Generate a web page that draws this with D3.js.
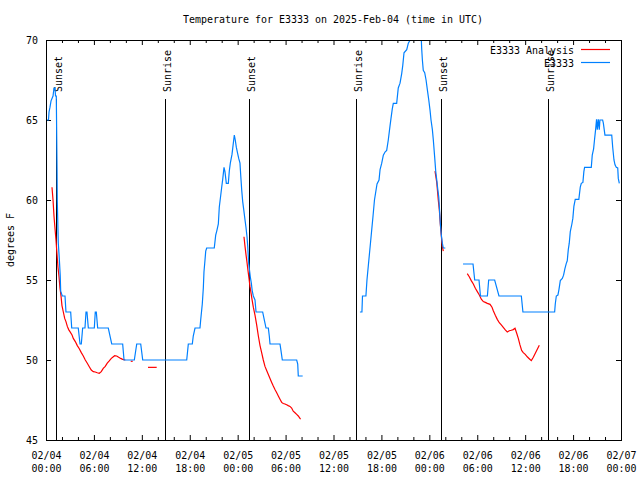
<!DOCTYPE html>
<html><head><meta charset="utf-8">
<script src="https://cdn.jsdelivr.net/npm/d3@7"></script>
<style>
body{margin:0;background:#fff}
svg{display:block}
text{font-family:"DejaVu Sans Mono",monospace;font-size:11px;fill:#000}
</style>
</head><body>
<svg id="c" width="640" height="480"></svg>
<script>
const titleText = "Temperature for E3333 on 2025-Feb-04 (time in UTC)";
const yLabelText = "degrees F";
const seriesNames = ["E3333 Analysis", "E3333"];
const seriesColors = ["#ff0000", "#0080ff"];
const startUTC = Date.UTC(2025, 1, 4);
const xTickHours = [0, 6, 12, 18, 24, 30, 36, 42, 48, 54, 60, 66, 72];
const xMinorHours = [2, 4, 8, 10, 14, 16, 20, 22, 26, 28, 32, 34, 38, 40, 44, 46, 50, 52, 56, 58, 62, 64, 68, 70];
const yTicks = [45, 50, 55, 60, 65, 70];
const sunHours = [1.29, 14.84, 25.38, 38.76, 49.46, 62.88];
const sunLabels = ["Sunset", "Sunrise", "Sunset", "Sunrise", "Sunset", "Sunrise"];

// observed (blue) — [hours since 02/04 00:00 UTC, degF]
const obsSeg1 = [[0.13,65],[0.31,65],[0.38,65.5],[0.5,65.8],[0.63,66.2],[0.88,66.5],[1.0,67],[1.13,67],[1.19,66.5],[1.29,66.5],[1.38,62],[1.41,60],[1.54,57.3],[1.67,56.3],[1.78,55.3],[1.84,54.3],[2.04,54],[2.38,54],[2.5,53],[3.09,53],[3.22,52],[4.04,52],[4.26,51],[4.42,51],[4.59,52],[4.88,52],[5.01,53],[5.13,53],[5.3,52],[6.05,52],[6.17,53],[6.3,53],[6.47,52],[7.8,52],[8.23,51],[9.6,51],[9.77,50],[11.06,50],[11.36,51],[11.86,51],[12.11,50],[17.62,50],[17.82,51],[18.32,51],[18.44,51.5],[18.66,52],[19.28,52],[19.37,52.5],[19.57,53.5],[19.7,54.5],[19.78,55.5],[19.91,56.25],[20.0,56.8],[20.12,57],[21.07,57],[21.25,57.8],[21.38,58.06],[21.58,58.5],[21.7,59.56],[21.88,60.3],[22.0,60.8],[22.13,61.3],[22.29,62.04],[22.41,61.77],[22.58,61.04],[22.83,61.04],[22.95,61.8],[23.08,62.3],[23.29,62.85],[23.42,63.4],[23.58,64.06],[23.7,63.75],[23.83,63.3],[24.0,62.9],[24.13,62.6],[24.29,62.3],[24.38,61.56],[24.51,60.6],[24.63,59.9],[24.76,59.4],[24.92,58.75],[25.04,58.3],[25.17,57.7],[25.26,57.1],[25.38,56.04],[25.46,55.7],[25.58,55.2],[25.71,54.8],[25.83,54.3],[25.96,54],[26.17,53.75],[26.3,53],[27.13,53],[27.38,52.4],[27.55,52],[27.84,52],[27.96,51.5],[28.05,51],[29.3,51],[29.42,50.6],[29.59,50],[31.39,50],[31.52,49.75],[31.59,49],[32.14,49]];
const obsSeg2 = [[39.31,53],[39.56,53],[39.63,54],[40.06,54],[40.19,55],[40.38,56],[40.57,57],[40.76,58],[40.95,59],[41.13,60],[41.45,61],[41.7,61.25],[41.83,61.9],[42.04,62.3],[42.24,62.8],[42.45,63],[42.66,63.1],[42.86,63.75],[43.07,64.6],[43.2,65.1],[43.36,65.7],[43.49,66.04],[43.91,66.04],[44.11,67],[44.33,67.3],[44.54,67.9],[44.67,68.4],[44.83,69.2],[45.17,69.4],[45.37,69.8],[45.83,70.2],[46.08,71],[46.84,71],[46.98,70.2],[47.05,69.4],[47.13,68.75],[47.24,68.1],[47.42,67.96],[47.59,67.5],[47.75,66.9],[47.93,66.25],[48.09,65.6],[48.21,65],[48.38,64.4],[48.5,63.75],[48.68,62.6],[48.8,61.8],[48.93,61.25],[49.05,60.7],[49.18,60.2],[49.25,59.6],[49.38,58.5],[49.5,57.8],[49.63,57.3],[49.75,57],[50.0,57]];
const obsSeg3 = [[52.22,56],[53.47,56],[53.68,55],[54.22,55],[54.4,54],[55.27,54],[55.43,55],[56.18,55],[56.72,54],[59.52,54],[59.72,53],[63.69,53],[63.77,53.5],[63.9,54],[64.1,54.06],[64.23,54.4],[64.4,54.96],[64.65,55.1],[64.81,55.3],[64.97,55.7],[65.15,56.04],[65.27,56.2],[65.4,56.9],[65.52,57.3],[65.65,58.02],[65.85,58.5],[65.97,58.85],[66.1,59.6],[66.27,60.04],[66.72,60.04],[66.9,60.8],[67.03,61.04],[67.23,61.1],[67.35,61.77],[67.44,62.04],[68.28,62.04],[68.4,62.8],[68.57,63.2],[68.69,63.8],[68.82,64.4],[68.94,65.04],[69.03,64.4],[69.16,65.04],[69.28,64.4],[69.36,65],[69.7,65],[69.79,64.8],[69.99,64.06],[70.84,64.06],[70.96,63.3],[71.12,62.5],[71.25,62.2],[71.41,62.04],[71.59,62.0],[71.66,61.35],[71.79,61.04]];

// analysis (red)
const anaSeg1 = [[0.75,60.8],[0.88,60.0],[1.0,59.0],[1.13,58.2],[1.25,57.5],[1.38,56.6],[1.5,55.8],[1.63,55.2],[1.75,54.5],[1.88,54.0],[2.0,53.4],[2.17,53.0],[2.34,52.6],[2.5,52.4],[2.67,52.1],[2.84,51.9],[3.0,51.77],[3.26,51.56],[3.42,51.35],[3.67,51.15],[3.92,50.9],[4.17,50.7],[4.42,50.46],[4.67,50.25],[4.92,50.0],[5.17,49.8],[5.42,49.58],[5.67,49.37],[5.92,49.27],[6.17,49.25],[6.42,49.2],[6.67,49.17],[6.92,49.27],[7.17,49.48],[7.42,49.6],[7.67,49.8],[7.92,49.94],[8.18,50.1],[8.43,50.2],[8.6,50.27],[8.85,50.25],[9.1,50.17],[9.35,50.1],[9.6,50.04],[9.93,50.0]];
const anaSeg2 = [[10.61,49.92],[10.86,49.92]];
const anaSeg3 = [[12.77,49.54],[13.86,49.54]];
const anaSeg4 = [[24.79,57.7],[24.92,57.1],[25.04,56.6],[25.17,56.1],[25.29,55.6],[25.42,55.1],[25.54,54.6],[25.67,54.2],[25.79,53.8],[25.96,53.3],[26.17,52.8],[26.38,52.2],[26.59,51.5],[26.8,50.9],[27.01,50.45],[27.21,50.0],[27.42,49.6],[27.63,49.35],[27.84,49.1],[28.05,48.85],[28.26,48.6],[28.46,48.37],[28.67,48.15],[28.89,47.95],[29.09,47.75],[29.3,47.55],[29.51,47.35],[29.71,47.28],[29.92,47.25],[30.13,47.2],[30.33,47.15],[30.55,47.1],[30.76,47.0],[30.96,46.8],[31.18,46.7],[31.39,46.6],[31.59,46.5],[31.8,46.35],[31.89,46.3]];
const anaSeg5 = [[48.71,61.8],[48.93,61.1],[49.12,60.0],[49.25,59.4],[49.42,58.2],[49.62,57.1],[49.75,56.8]];
const anaSeg6 = [[52.75,55.4],[53.0,55.2],[53.25,54.96],[53.51,54.75],[53.76,54.48],[54.01,54.27],[54.26,54.06],[54.51,53.8],[54.76,53.65],[55.01,53.6],[55.26,53.54],[55.6,53.48],[55.85,53.3],[56.01,53.08],[56.26,52.8],[56.51,52.54],[56.76,52.33],[57.01,52.2],[57.26,52.04],[57.51,51.88],[57.76,51.75],[58.01,51.83],[58.26,51.86],[58.51,51.9],[58.73,51.98],[58.94,51.67],[59.14,51.35],[59.35,50.94],[59.56,50.6],[59.76,50.46],[60.01,50.35],[60.26,50.2],[60.51,50.08],[60.77,49.96],[61.02,50.17],[61.27,50.42],[61.52,50.67],[61.77,50.92]];

const obsSegments = [obsSeg1, obsSeg2, obsSeg3];
const anaSegments = [anaSeg1, anaSeg2, anaSeg3, anaSeg4, anaSeg5, anaSeg6];

const T = h => new Date(startUTC + h * 3600000);
const M = {l: 46, r: 621, t: 40, b: 440};
const svg = d3.select("#c");

const x = d3.scaleUtc().domain([T(0), T(72)]).range([M.l, M.r]);
const y = d3.scaleLinear().domain([45, 70]).range([M.b, M.t]);

svg.append("defs").append("clipPath").attr("id", "clip")
  .append("rect").attr("x", M.l).attr("y", M.t).attr("width", M.r - M.l).attr("height", M.b - M.t);

// axes (inward ticks, mirrored)
const gxB = svg.append("g").attr("transform", `translate(0,${M.b})`)
  .call(d3.axisBottom(x).tickValues(xTickHours.map(T)).tickSizeInner(-5).tickSizeOuter(0).tickFormat(d3.utcFormat("%m/%d")));
gxB.select(".domain").remove();
gxB.selectAll(".tick text").attr("y", 19).attr("dy", null);
gxB.selectAll(".tick").append("text").attr("y", 32).attr("text-anchor", "middle").attr("fill", "#000")
  .text(d => d3.utcFormat("%H:%M")(d));
const gxBm = svg.append("g").attr("transform", `translate(0,${M.b})`)
  .call(d3.axisBottom(x).tickValues(xMinorHours.map(T)).tickSizeInner(-3).tickSizeOuter(0).tickFormat(""));
gxBm.select(".domain").remove();
const gxT = svg.append("g").attr("transform", `translate(0,${M.t})`)
  .call(d3.axisTop(x).tickValues(xTickHours.map(T)).tickSizeInner(-5).tickSizeOuter(0).tickFormat(""));
gxT.select(".domain").remove();
const gxTm = svg.append("g").attr("transform", `translate(0,${M.t})`)
  .call(d3.axisTop(x).tickValues(xMinorHours.map(T)).tickSizeInner(-3).tickSizeOuter(0).tickFormat(""));
gxTm.select(".domain").remove();

const gyL = svg.append("g").attr("transform", `translate(${M.l},0)`)
  .call(d3.axisLeft(y).tickValues(yTicks).tickSizeInner(-5).tickSizeOuter(0).tickPadding(8).tickFormat(d3.format("d")));
gyL.select(".domain").remove();
const gyR = svg.append("g").attr("transform", `translate(${M.r},0)`)
  .call(d3.axisRight(y).tickValues(yTicks).tickSizeInner(-5).tickSizeOuter(0).tickFormat(""));
gyR.select(".domain").remove();
svg.selectAll(".tick line").attr("stroke", "#000");

// sunrise / sunset markers
sunHours.forEach((h, i) => {
  const xx = Math.round(x(T(h))) + 0.5;
  svg.append("line").attr("x1", xx).attr("x2", xx).attr("y1", 99).attr("y2", M.b)
    .attr("stroke", "#000").attr("stroke-width", 1);
  svg.append("text").attr("transform", `translate(${xx + 5.5},92) rotate(-90)`)
    .attr("text-anchor", "start").text(sunLabels[i]);
});

// data
const line = d3.line().x(d => x(T(d[0]))).y(d => y(d[1]));
const gData = svg.append("g").attr("clip-path", "url(#clip)");
anaSegments.forEach(s => gData.append("path").attr("d", line(s)).attr("fill", "none")
  .attr("stroke", seriesColors[0]).attr("stroke-width", 1.2));
obsSegments.forEach(s => gData.append("path").attr("d", line(s)).attr("fill", "none")
  .attr("stroke", seriesColors[1]).attr("stroke-width", 1.2));

// border
svg.append("rect").attr("x", M.l + 0.5).attr("y", M.t + 0.5)
  .attr("width", M.r - M.l).attr("height", M.b - M.t)
  .attr("fill", "none").attr("stroke", "#000").attr("stroke-width", 1);

// title + y label
svg.append("text").attr("x", 333).attr("y", 23).attr("text-anchor", "middle").text(titleText);
svg.append("text").attr("transform", "translate(14,240) rotate(-90)").attr("text-anchor", "middle").text(yLabelText);

// legend
seriesNames.forEach((n, i) => {
  const yy = 49.5 + i * 13;
  svg.append("text").attr("x", 574).attr("y", yy + 4).attr("text-anchor", "end").text(n);
  svg.append("line").attr("x1", 581).attr("x2", 610).attr("y1", yy).attr("y2", yy)
    .attr("stroke", seriesColors[i]).attr("stroke-width", 1.2);
});

// narrow glyphs like the original bitmap font: 6px per character
svg.selectAll("text").each(function() {
  const s = this.textContent;
  if (s) d3.select(this).attr("textLength", s.length * 6).attr("lengthAdjust", "spacingAndGlyphs");
});
</script>
</body></html>
